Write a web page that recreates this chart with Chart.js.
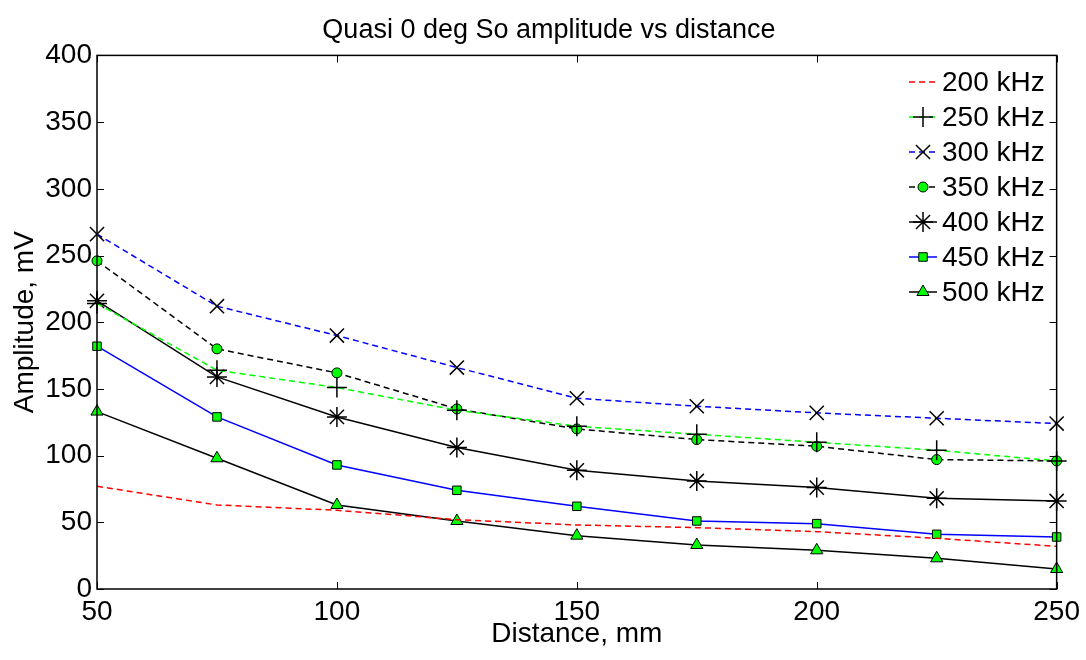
<!DOCTYPE html>
<html>
<head>
<meta charset="utf-8">
<script src="https://cdn.jsdelivr.net/npm/chart.js@4"></script>
<style>
  html, body { margin: 0; padding: 0; background: #fff; }
  #wrap { width: 1086px; height: 660px; }
</style>
</head>
<body>
<div id="wrap"><canvas id="ampChart"></canvas></div>
<script>
// distance, mm
const distances = [50, 75, 100, 125, 150, 175, 200, 225, 250];
// amplitude, mV per frequency
const amp200 = [77, 63, 59, 52, 48, 46, 43, 38, 32];
const amp250 = [214, 164, 151, 134, 122, 116, 110, 104, 96];
const amp300 = [266, 212, 190, 166, 143, 137, 132, 128, 124];
const amp350 = [246, 180, 162, 135, 120, 112, 107, 97, 96];
const amp400 = [216, 159, 129, 106, 89, 81, 76, 68, 66];
const amp450 = [182, 129, 93, 74, 62, 51, 49, 41, 39];
const amp500 = [133, 98, 63, 51, 40, 33, 29, 23, 15];
const seriesLabels = ['200 kHz', '250 kHz', '300 kHz', '350 kHz', '400 kHz', '450 kHz', '500 kHz'];
const xTicks = [50, 100, 150, 200, 250];
const yTicks = [0, 50, 100, 150, 200, 250, 300, 350, 400];

const FONT = '"Liberation Sans", Arial, sans-serif';
const GREEN = '#00ff00';

function pts(arr) {
  return distances.map((d, i) => ({ x: d, y: arr[i] }));
}

const styles = [
  { color: '#ff0000', dash: [6, 4], point: false, r: 0 },
  { color: GREEN, dash: [6, 4], point: 'cross', r: 10, fill: '#000', edge: '#000', bw: 1.5 },
  { color: '#0000ff', dash: [6, 4], point: 'crossRot', r: 10, fill: '#000', edge: '#000', bw: 1.5 },
  { color: '#000000', dash: [6, 4], point: 'circle', r: 5, fill: GREEN, edge: '#000', bw: 1 },
  { color: '#000000', dash: [], point: 'star', r: 10, fill: '#000', edge: '#000', bw: 1.5 },
  { color: '#0000ff', dash: [], point: 'rect', r: 6, fill: GREEN, edge: '#000', bw: 1 },
  { color: '#000000', dash: [], point: 'triangle', r: 7, fill: GREEN, edge: '#000', bw: 1 }
];

const allData = [amp200, amp250, amp300, amp350, amp400, amp450, amp500];

const datasets = allData.map((arr, i) => {
  const s = styles[i];
  return {
    label: seriesLabels[i],
    data: pts(arr),
    borderColor: s.color,
    borderWidth: 1.5,
    borderDash: s.dash,
    pointStyle: s.point,
    pointRadius: s.r,
    pointHoverRadius: s.r,
    pointBackgroundColor: s.fill,
    pointBorderColor: s.edge,
    pointBorderWidth: s.bw,
    tension: 0,
    fill: false,
    clip: false
  };
});

// box, inward ticks, and matlab-like legend
const matlabAxes = {
  id: 'matlabAxes',
  afterDraw(chart) {
    const ctx = chart.ctx;
    const { left, right, top, bottom } = chart.chartArea;
    const xs = chart.scales.x, ys = chart.scales.y;
    ctx.save();
    ctx.strokeStyle = '#000';
    ctx.lineWidth = 1.5;
    ctx.setLineDash([]);
    ctx.strokeRect(left, top, right - left, bottom - top);
    ctx.lineWidth = 1;
    const tl = 7;
    ctx.beginPath();
    xTicks.forEach(v => {
      const px = Math.round(xs.getPixelForValue(v)) + 0.5;
      ctx.moveTo(px, bottom); ctx.lineTo(px, bottom - tl);
      ctx.moveTo(px, top); ctx.lineTo(px, top + tl);
    });
    yTicks.forEach(v => {
      const py = Math.round(ys.getPixelForValue(v)) + 0.5;
      ctx.moveTo(left, py); ctx.lineTo(left + tl, py);
      ctx.moveTo(right, py); ctx.lineTo(right - tl, py);
    });
    ctx.stroke();

    // legend
    ctx.font = '28px ' + FONT;
    ctx.textBaseline = 'middle';
    ctx.textAlign = 'left';
    chart.data.datasets.forEach((ds, i) => {
      const y = 82 + i * 35;
      const x0 = 909, x1 = 937;
      ctx.strokeStyle = ds.borderColor;
      ctx.lineWidth = 1.5;
      ctx.setLineDash(ds.borderDash);
      ctx.beginPath();
      ctx.moveTo(x0, y); ctx.lineTo(x1, y);
      ctx.stroke();
      ctx.setLineDash([]);
      if (ds.pointStyle) {
        ctx.fillStyle = ds.pointBackgroundColor;
        ctx.strokeStyle = ds.pointBorderColor;
        ctx.lineWidth = ds.pointBorderWidth;
        Chart.helpers.drawPoint(ctx, {
          pointStyle: ds.pointStyle,
          radius: ds.pointRadius,
          rotation: 0,
          borderWidth: ds.pointBorderWidth
        }, (x0 + x1) / 2, y);
      }
      ctx.fillStyle = '#000';
      ctx.fillText(ds.label, 942, y + 1);
    });
    ctx.restore();
  }
};

new Chart(document.getElementById('ampChart'), {
  type: 'line',
  data: { datasets: datasets },
  options: {
    responsive: true,
    maintainAspectRatio: false,
    animation: false,
    // left padding nudges the title centre right; y scale width compensates
    layout: { padding: { left: 40, right: 28, top: 0, bottom: 0 } },
    plugins: {
      legend: { display: false },
      tooltip: { enabled: false },
      title: {
        display: true,
        text: 'Quasi 0 deg So amplitude vs distance',
        color: '#000',
        font: { family: FONT, size: 27, weight: 'normal' },
        padding: { top: 14, bottom: 9 }
      }
    },
    scales: {
      x: {
        type: 'linear',
        min: 50,
        max: 250,
        afterBuildTicks(scale) { scale.ticks = xTicks.map(v => ({ value: v })); },
        afterFit(scale) { scale.height = 71; },
        grid: { display: false, drawTicks: false },
        border: { display: false },
        ticks: {
          color: '#000',
          padding: 6,
          maxRotation: 0,
          autoSkip: false,
          font: { family: FONT, size: 28 }
        },
        title: {
          display: true,
          text: 'Distance, mm',
          color: '#000',
          font: { family: FONT, size: 28 },
          padding: { top: 0, bottom: 9 }
        }
      },
      y: {
        min: 0,
        max: 400,
        afterBuildTicks(scale) { scale.ticks = yTicks.map(v => ({ value: v })); },
        afterFit(scale) { scale.width = 57; },
        grid: { display: false, drawTicks: false },
        border: { display: false },
        ticks: {
          color: '#000',
          padding: 5,
          autoSkip: false,
          font: { family: FONT, size: 28 }
        },
        title: {
          display: true,
          text: 'Amplitude, mV',
          color: '#000',
          font: { family: FONT, size: 28 },
          padding: { top: -32, bottom: 0 }
        }
      }
    }
  },
  plugins: [matlabAxes]
});
</script>
</body>
</html>
